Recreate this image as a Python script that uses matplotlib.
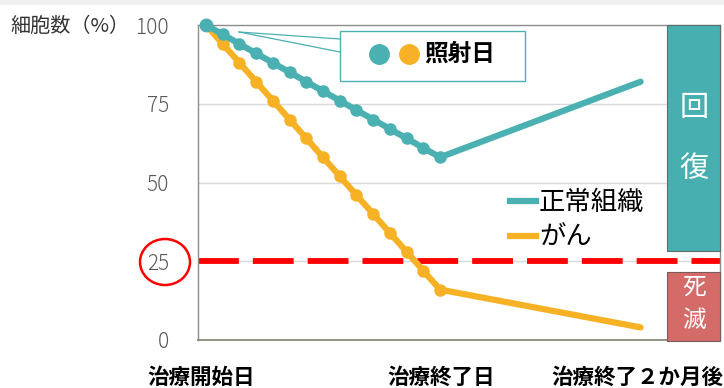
import matplotlib
matplotlib.use("Agg")
import matplotlib.pyplot as plt
from matplotlib.patches import Rectangle, Ellipse
from matplotlib.lines import Line2D
import matplotlib.transforms as mtransforms

plt.rcParams['font.family'] = ['Noto Sans CJK JP', 'DejaVu Sans']

# ---- data ----
days = [0, 1, 2, 3, 4, 5, 6, 7, 8, 9, 10, 11, 12, 13, 14, 26]
normal = [100, 97, 94, 91, 88, 85, 82, 79, 76, 73, 70, 67, 64, 61, 58, 82]
cancer = [100, 94, 88, 82, 76, 70, 64, 58, 52, 46, 40, 34, 28, 22, 16, 4]
n_marked = 15  # irradiation days carry markers
yticks = [0, 25, 50, 75, 100]
xlabels = ["治療開始日", "治療終了日", "治療終了２か月後"]
xlabel_pos = [-0.3, 14.05, 25.8]
threshold = 25
series_names = ["正常組織", "がん"]

TEAL = '#4AB0B2'
ORANGE = '#F7B125'
BOX_TEAL = '#47AFB0'
BOX_RED = '#D46B68'

W, H = 724, 388
fig = plt.figure(figsize=(W / 100, H / 100), dpi=100)
fig.patch.set_facecolor('white')

def fx(x):
    return x / W

def fy(y):
    return 1 - y / H

# top gray strip
fig.add_artist(Rectangle((0, fy(5)), 1, 5 / H, transform=fig.transFigure,
                         facecolor='#F0F0F0', edgecolor='none'))

ax = fig.add_axes([fx(198), fy(340), fx(720) - fx(198), fy(25) - fy(340)])
ax.set_xlim(-0.48, 30.75)
ax.set_ylim(0, 100)

for s in ['left', 'top', 'right']:
    ax.spines[s].set_color('#8C8C8C')
    ax.spines[s].set_linewidth(1)
ax.spines['bottom'].set_color('#7F7F6F')
ax.spines['bottom'].set_linewidth(1.2)

ax.set_yticks(yticks)
ax.set_yticklabels([str(v) for v in yticks], color='#595959', fontsize=15,
                   fontweight='light')
ax.tick_params(axis='y', length=0, pad=21)
ax.set_xticks([])
for v in [25, 50, 75]:
    ax.axhline(v, color='#D9D9D9', lw=1, zorder=1)

# threshold dashed line
ax.plot([-0.48, 30.75], [threshold, threshold], color='#FF0000', lw=4.2,
        dashes=(7, 2.4), zorder=2, clip_on=False)

# series
ax.plot(days, normal, color=TEAL, lw=4.5, solid_capstyle='round',
        solid_joinstyle='round', zorder=4, clip_on=False)
ax.plot(days[:n_marked], normal[:n_marked], 'o', color=TEAL, ms=8,
        zorder=5, clip_on=False)
ax.plot(days, cancer, color=ORANGE, lw=4.5, solid_capstyle='round',
        solid_joinstyle='round', zorder=3, clip_on=False)
ax.plot(days[:n_marked], cancer[:n_marked], 'o', color=ORANGE, ms=8,
        zorder=3, clip_on=False)
ax.plot([days[0]], [normal[0]], 'o', color=TEAL, ms=9, zorder=6, clip_on=False)

# x labels
trans = mtransforms.blended_transform_factory(ax.transData, ax.transAxes)
for lab, pos in zip(xlabels, xlabel_pos):
    ax.text(pos, -0.12, lab, transform=trans, ha='center', va='center',
            fontsize=15.5, fontweight='bold', color='black')

# y label
fig.text(fx(10), fy(26), "細胞数（%）", ha='left', va='center', fontsize=14.5,
         color='#333333')

# red circle around 25
fig.add_artist(Ellipse((fx(165), fy(262)), 50 / W, 46 / H,
                       transform=fig.transFigure, facecolor='none',
                       edgecolor='#FF0000', lw=1.8))

# legend
handles = [Line2D([0], [0], color=TEAL, lw=4.5),
           Line2D([0], [0], color=ORANGE, lw=4.5)]
leg = ax.legend(handles, series_names, loc='upper left',
                bbox_to_anchor=(fx(510), fy(189)), bbox_transform=fig.transFigure,
                frameon=False, fontsize=19, handlelength=1.0,
                handletextpad=0.1, labelspacing=0.3, borderpad=0,
                borderaxespad=0)
for t in leg.get_texts():
    t.set_color('black')

# right-side boxes
fig.add_artist(Rectangle((fx(667), fy(251)), (720 - 667) / W, (251 - 25) / H,
                         transform=fig.transFigure, facecolor=BOX_TEAL,
                         edgecolor='#5A6E6E', lw=0.8, zorder=10))
fig.text(fx(694), fy(108), "回", ha='center', va='center', fontsize=21,
         color='white', zorder=11)
fig.text(fx(694), fy(169), "復", ha='center', va='center', fontsize=21,
         color='white', zorder=11)
fig.add_artist(Rectangle((fx(667), fy(341)), (720 - 667) / W, (341 - 272) / H,
                         transform=fig.transFigure, facecolor=BOX_RED,
                         edgecolor='#7A5A5A', lw=0.8, zorder=10))
fig.text(fx(694), fy(287), "死", ha='center', va='center', fontsize=17,
         color='white', zorder=11)
fig.text(fx(694), fy(320), "滅", ha='center', va='center', fontsize=17,
         color='white', zorder=11)

# callout
fig.add_artist(Line2D([fx(239), fx(340)], [fy(32), fy(39)], color=TEAL, lw=0.9,
                      transform=fig.transFigure, zorder=9))
fig.add_artist(Line2D([fx(239), fx(340)], [fy(32), fy(52)], color=TEAL, lw=0.9,
                      transform=fig.transFigure, zorder=9))
fig.add_artist(Rectangle((fx(340), fy(81)), (525 - 340) / W, (81 - 31) / H,
                         transform=fig.transFigure, facecolor='white',
                         edgecolor=TEAL, lw=1, zorder=9))
fig.add_artist(Line2D([fx(379)], [fy(54)], marker='o', ms=14, color=TEAL,
                      transform=fig.transFigure, zorder=10))
fig.add_artist(Line2D([fx(409)], [fy(54)], marker='o', ms=14, color=ORANGE,
                      transform=fig.transFigure, zorder=10))
fig.text(fx(424), fy(54), "照射日", ha='left', va='center', fontsize=17,
         fontweight='bold', color='black', zorder=10)

fig.savefig('out.png', dpi=100)
